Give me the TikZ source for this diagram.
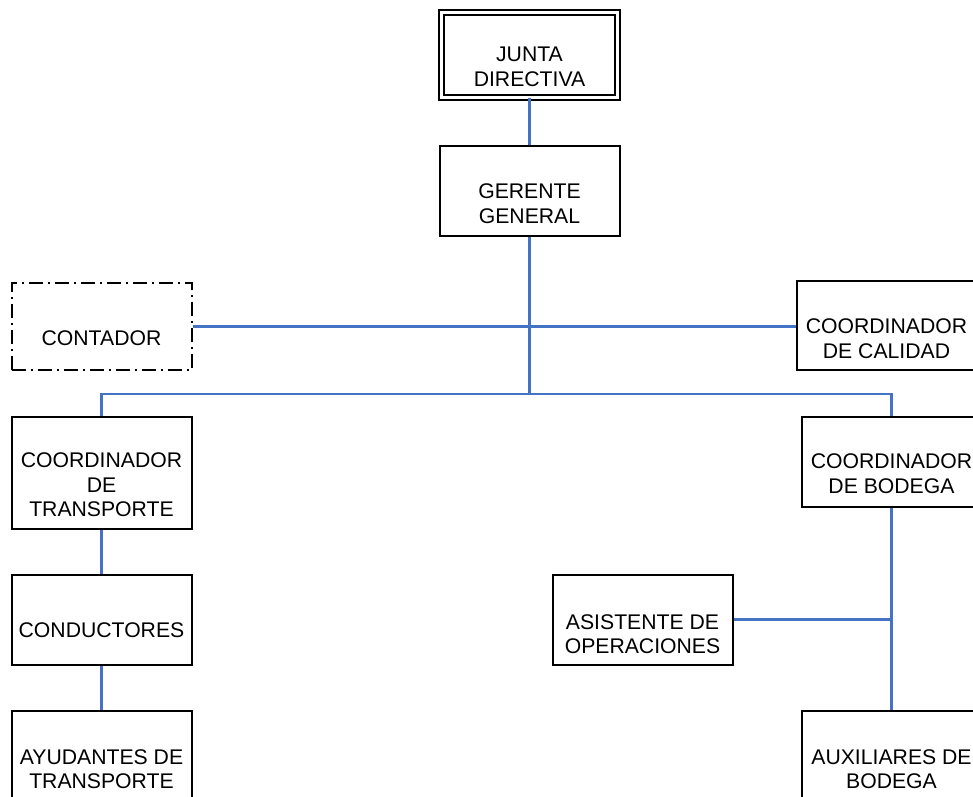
\documentclass[tikz,border=0pt]{standalone}
\usepackage{fontspec}
\setmainfont{Liberation Sans}
\definecolor{linkblue}{HTML}{4472C4}

\begin{document}
\begin{tikzpicture}[x=1pt,y=-1pt,
box/.style={draw,line width=2pt,minimum width=180pt,minimum height=90pt,inner sep=0pt},
dbox/.style={draw,line width=1.8pt,double,double distance=2.6pt,minimum width=176pt,minimum height=85pt,inner sep=0pt},
dashbox/.style={box,dash pattern=on 14pt off 5pt on 2pt off 5pt},
txt/.style={align=center,font=\fontsize{21.2}{24.5}\selectfont,inner sep=0pt},
link/.style={draw=linkblue,line width=2.2pt}]
\useasboundingbox (0,0) rectangle (973,796);
\clip (0,0) rectangle (973,796);
\node[dbox] (junta) at (529.5,55) {};
\node[box] (gerente) at (529.5,190.5) {};
\node[dashbox,minimum height=87pt] (contador) at (101.5,326.5) {};
\node[box,minimum height=89pt] (calidad) at (886.5,325.5) {};
\node[box,minimum height=112pt] (transporte) at (101.5,473) {};
\node[box] (bodega) at (891.5,462) {};
\node[box] (conductores) at (101.5,619.5) {};
\node[box] (asistente) at (642.5,619.5) {};
\node[box] (ayudantes) at (101.5,755.5) {};
\node[box] (auxiliares) at (891.5,755.5) {};
\node[txt] (junta-t) at ([yshift=-12pt]junta.center) {JUNTA\\DIRECTIVA};
\node[txt] (gerente-t) at ([yshift=-13pt]gerente.center) {GERENTE\\GENERAL};
\node[txt] (contador-t) at ([yshift=-11.5pt]contador.center) {CONTADOR};
\node[txt] (calidad-t) at ([yshift=-13pt]calidad.center) {COORDINADOR\\DE CALIDAD};
\node[txt] (transporte-t) at ([yshift=-12pt]transporte.center) {COORDINADOR\\DE\\TRANSPORTE};
\node[txt] (bodega-t) at ([yshift=-11.5pt]bodega.center) {COORDINADOR\\DE BODEGA};
\node[txt] (conductores-t) at ([yshift=-11pt]conductores.center) {CONDUCTORES};
\node[txt] (asistente-t) at ([yshift=-14.5pt]asistente.center) {ASISTENTE DE\\OPERACIONES};
\node[txt] (ayudantes-t) at ([yshift=-13.5pt]ayudantes.center) {AYUDANTES DE\\TRANSPORTE};
\node[txt] (auxiliares-t) at ([yshift=-13.5pt]auxiliares.center) {AUXILIARES DE\\BODEGA};
\coordinate (bus) at (529.5,394);
\draw[link] (junta.south) -- (gerente.north);
\draw[link] (gerente.south) -- (bus);
\draw[link] (contador.east) -- (contador.east -| calidad.west);
\draw[link] (transporte.north) |- (bus) -| (bodega.north);
\draw[link] (transporte.south) -- (conductores.north);
\draw[link] (conductores.south) -- (ayudantes.north);
\draw[link] (bodega.south) -- (auxiliares.north);
\draw[link] (asistente.east) -- (asistente.east -| bodega.south);
\end{tikzpicture}
\end{document}
